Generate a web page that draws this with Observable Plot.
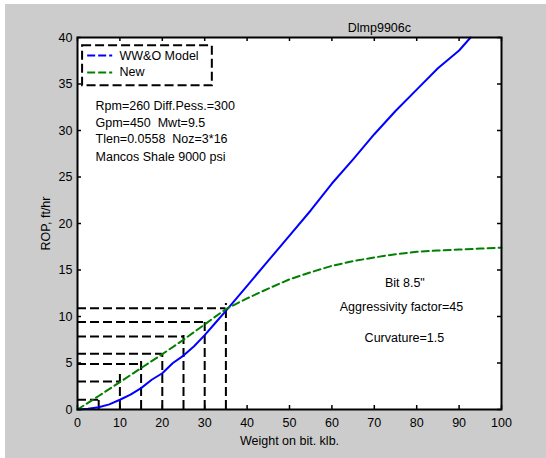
<!DOCTYPE html>
<html>
<head>
<meta charset="utf-8">
<script src="https://cdn.jsdelivr.net/npm/d3@7"></script>
<script src="https://cdn.jsdelivr.net/npm/@observablehq/plot@0.6"></script>
<style>
  html, body { margin: 0; padding: 0; background: #ffffff; }
  #fig { position: relative; width: 546px; height: 458px; overflow: hidden; }
  #panel { position: absolute; left: 5px; top: 4px; right: 0; bottom: 0; background: #cccccc; }
  #chart { position: absolute; left: 0; top: 0; }
</style>
</head>
<body>
<div id="fig"><div id="panel"></div><div id="chart"></div></div>
<script>
// WW&O model curve: ROP (ft/hr) against weight on bit (klb)
const wowWeight = [0, 2.5, 5, 7.5, 10, 12.5, 15, 17.5, 20, 22.5, 25, 27.5, 30, 32.5, 35, 40, 45, 50, 55, 60, 65, 70, 75, 80, 85, 90, 92.7];
const wowRop    = [0, 0.08, 0.25, 0.55, 1.05, 1.6, 2.3, 3.2, 3.9, 5.0, 5.8, 6.8, 8.0, 9.3, 10.6, 13.3, 16.0, 18.7, 21.4, 24.3, 26.9, 29.6, 32.1, 34.4, 36.7, 38.6, 40];

// New model curve
const newWeight = [0, 5, 10, 15, 20, 25, 30, 35, 40, 45, 50, 55, 60, 65, 70, 75, 80, 85, 90, 95, 100];
const newRop    = [0, 1.45, 2.95, 4.45, 5.95, 7.5, 9.15, 10.8, 11.95, 13.0, 14.0, 14.75, 15.45, 15.95, 16.35, 16.7, 16.95, 17.1, 17.2, 17.3, 17.4];

// Dashed read-off lines at each weight step
const guideWeight = [5, 10, 15, 20, 25, 30, 35];
const guideTop    = [1.3, 3.8, 5.6, 6.0, 8.1, 9.6, 11.4];
const guideLevel  = [1.05, 3.0, 4.9, 6.0, 7.85, 9.4, 10.9];

// Axis ticks
const xTicks = [0, 10, 20, 30, 40, 50, 60, 70, 80, 90, 100];
const yTicks = [0, 5, 10, 15, 20, 25, 30, 35, 40];

// Text
const seriesNames = ["WW&O Model", "New"];
const titleText = "Dlmp9906c";
const conditionLines = ["Rpm=260 Diff.Pess.=300", "Gpm=450  Mwt=9.5", "Tlen=0.0558  Noz=3*16", "Mancos Shale 9000 psi"];
const bitLines = ["Bit 8.5\"", "Aggressivity factor=45", "Curvature=1.5"];

const wowData = wowWeight.map((w, i) => ({w, rop: wowRop[i]}));
const newData = newWeight.map((w, i) => ({w, rop: newRop[i]}));
const guides = guideWeight.map((w, i) => ({w, top: guideTop[i], level: guideLevel[i]}));

// Layout
const W = 546, H = 458;
const M = {top: 37, right: 45, bottom: 49, left: 77};
const plotW = W - M.left - M.right;
const plotH = H - M.top - M.bottom;
const tickLen = 4;
const BLUE = "#0000ff", GREEN = "#008000";

// Annotation placement in data units
const legendBox = {x1: 1.2, x2: 31.8, y1: 34.8, y2: 39.1};
const legendRows = [38.06, 36.24];
const legendSample = {x1: 2.4, x2: 8.3, textX: 9.9};
const condPos = {x: 4.25, y: [32.6, 30.85, 29.05, 27.1]};
const bitPos = [{x: 77.2, y: 13.6}, {x: 76.4, y: 11.0}, {x: 77.1, y: 7.7}];
const titlePos = {x: 71.2, y: 41.0};

const legendData = seriesNames.map((name, i) => ({name, y: legendRows[i], color: [BLUE, GREEN][i]}));

const chart = Plot.plot({
  width: W,
  height: H,
  marginTop: M.top,
  marginRight: M.right,
  marginBottom: M.bottom,
  marginLeft: M.left,
  style: {background: "transparent", fontFamily: "'Liberation Sans', Arial, Helvetica, sans-serif", fontSize: "12.5px", color: "#000", overflow: "visible"},
  x: {domain: [0, 100]},
  y: {domain: [0, 40]},
  marks: [
    Plot.frame({fill: "white", stroke: null}),

    // read-off guides
    Plot.ruleX(guides, {x: "w", y1: 0, y2: "top", stroke: "black", strokeWidth: 2, strokeDasharray: "9,4"}),
    Plot.ruleY(guides, {y: "level", x1: 0, x2: "w", stroke: "black", strokeWidth: 2, strokeDasharray: "9,4"}),

    // model curves
    Plot.line(wowData, {x: "w", y: "rop", stroke: BLUE, strokeWidth: 2}),
    Plot.line(newData, {x: "w", y: "rop", stroke: GREEN, strokeWidth: 2, strokeDasharray: "7,4"}),

    // legend
    Plot.rect([legendBox], {x1: "x1", x2: "x2", y1: "y1", y2: "y2", fill: "white", stroke: "black", strokeWidth: 2, strokeDasharray: "9,4"}),
    Plot.ruleY(legendData, {y: "y", x1: legendSample.x1, x2: legendSample.x2, stroke: "color", strokeWidth: 2, strokeDasharray: "8,3"}),
    Plot.text(legendData, {x: legendSample.textX, y: "y", text: "name", textAnchor: "start", fill: "black"}),

    // conditions block
    Plot.text(conditionLines, {x: condPos.x, y: (d, i) => condPos.y[i], text: d => d, textAnchor: "start", fill: "black"}),

    // bit description
    Plot.text(bitLines, {x: (d, i) => bitPos[i].x, y: (d, i) => bitPos[i].y, text: d => d, textAnchor: "middle", fill: "black"}),

    // title text
    Plot.text([titleText], {x: titlePos.x, y: titlePos.y, text: d => d, textAnchor: "middle", fill: "black"}),

    // inward ticks on all four sides
    Plot.ruleX(xTicks, {x: d => d, insetTop: plotH - tickLen, stroke: "black", strokeWidth: 1.5}),
    Plot.ruleX(xTicks, {x: d => d, insetBottom: plotH - tickLen, stroke: "black", strokeWidth: 1.5}),
    Plot.ruleY(yTicks, {y: d => d, insetRight: plotW - tickLen, stroke: "black", strokeWidth: 1.5}),
    Plot.ruleY(yTicks, {y: d => d, insetLeft: plotW - tickLen, stroke: "black", strokeWidth: 1.5}),

    Plot.frame({stroke: "black", strokeWidth: 2}),

    Plot.axisX({ticks: xTicks, tickSize: 0, tickPadding: 9, label: "Weight on bit. klb.", labelAnchor: "center", labelOffset: 35, labelArrow: "none", fill: "black"}),
    Plot.axisY({ticks: yTicks, tickSize: 0, tickPadding: 5, label: "ROP, ft/hr", labelAnchor: "center", labelOffset: 36, labelArrow: "none", fill: "black"})
  ]
});

document.getElementById("chart").appendChild(chart);
</script>
</body>
</html>
